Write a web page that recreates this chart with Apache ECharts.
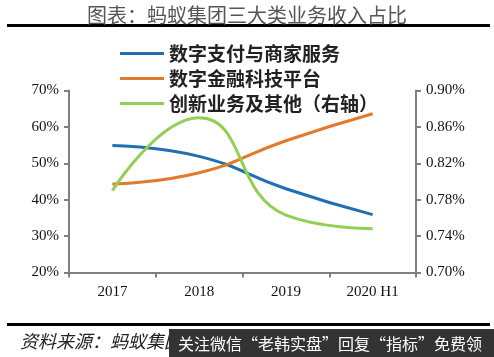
<!DOCTYPE html>
<html><head><meta charset="utf-8">
<script src="https://cdn.jsdelivr.net/npm/echarts@6/dist/echarts.min.js"></script>
<style>html,body{margin:0;padding:0;background:#fff}#c{width:494px;height:357px}</style>
</head><body><div id="c"></div>
<script>
const categories = ['2017', '2018', '2019', '2020 H1'];
const payment = [54.9, 51.9, 43.0, 35.9];
const fintech = [44.3, 47.4, 56.2, 63.6];
const innovation = [0.79, 0.87, 0.763, 0.748];
const leftTicks = [20, 70, 10];
const rightTicks = [0.70, 0.90, 0.04];

const serif = '"Liberation Serif", "Times New Roman", serif';
const cjk = '"Noto Sans CJK SC", sans-serif';
const chart = echarts.init(document.getElementById('c'));
chart.setOption({
  animation: false,
  backgroundColor: '#fff',
  title: {
    text: '图表：蚂蚁集团三大类业务收入占比',
    left: 'center', top: 0,
    textStyle: { fontFamily: cjk, fontSize: 20, fontWeight: 'normal', color: '#555' }
  },
  legend: {
    orient: 'vertical', left: 115, top: 39, itemGap: 6,
    itemWidth: 44, itemHeight: 3,
    icon: 'rect',
    textStyle: { fontFamily: cjk, fontSize: 19, fontWeight: 'bold', color: '#222' },
    data: ['数字支付与商家服务', '数字金融科技平台', '创新业务及其他（右轴）']
  },
  grid: { left: 69, right: 78, top: 90.5, bottom: 84.5 },
  xAxis: {
    type: 'category', data: categories, boundaryGap: true,
    axisLine: { lineStyle: { color: '#7f7f7f', width: 2 } },
    axisTick: { show: true, length: 5, lineStyle: { color: '#7f7f7f', width: 2 } },
    axisLabel: { fontFamily: serif, fontSize: 15, color: '#111', margin: 12 }
  },
  yAxis: [{
    type: 'value', min: leftTicks[0], max: leftTicks[1], interval: leftTicks[2],
    axisLine: { show: true, lineStyle: { color: '#7f7f7f', width: 2 } },
    axisTick: { show: true, length: 5, lineStyle: { color: '#7f7f7f', width: 2 } },
    splitLine: { show: false },
    axisLabel: { fontFamily: serif, fontSize: 15, color: '#111', margin: 10, formatter: v => v + '%' }
  }, {
    type: 'value', min: rightTicks[0], max: rightTicks[1], interval: rightTicks[2],
    position: 'right',
    axisLine: { show: true, lineStyle: { color: '#7f7f7f', width: 2 } },
    axisTick: { show: true, length: 5, lineStyle: { color: '#7f7f7f', width: 2 } },
    splitLine: { show: false },
    axisLabel: { fontFamily: serif, fontSize: 15, color: '#111', margin: 10, formatter: v => v.toFixed(2) + '%' }
  }],
  series: [{
    name: '数字支付与商家服务', type: 'line', data: payment, smooth: true,
    symbol: 'none', itemStyle: { color: '#1f6fb2' }, lineStyle: { width: 3 }
  }, {
    name: '数字金融科技平台', type: 'line', data: fintech, smooth: true,
    symbol: 'none', itemStyle: { color: '#e07a2c' }, lineStyle: { width: 3 }
  }, {
    name: '创新业务及其他（右轴）', type: 'line', yAxisIndex: 1, data: innovation, smooth: true,
    symbol: 'none', itemStyle: { color: '#92cf52' }, lineStyle: { width: 3 }
  }],
  graphic: [
    { type: 'rect', shape: { x: 7, y: 24, width: 483, height: 3 }, style: { fill: '#000' } },
    { type: 'rect', shape: { x: 7, y: 323, width: 483, height: 3 }, style: { fill: '#000' } },
    { type: 'text', x: 20, y: 332, style: { text: '资料来源：蚂蚁集团招股书，恒大研究院', font: 'italic 18px "Noto Sans CJK SC"', fill: '#222' } },
    { type: 'rect', shape: { x: 169, y: 329, width: 325, height: 28 }, style: { fill: '#333' } },
    { type: 'text', x: 178, y: 336, style: { text: '关注微信“老韩实盘”回复“指标”免费领', font: '16px "Noto Sans CJK SC"', fill: '#fff' } }
  ]
});
</script></body></html>
